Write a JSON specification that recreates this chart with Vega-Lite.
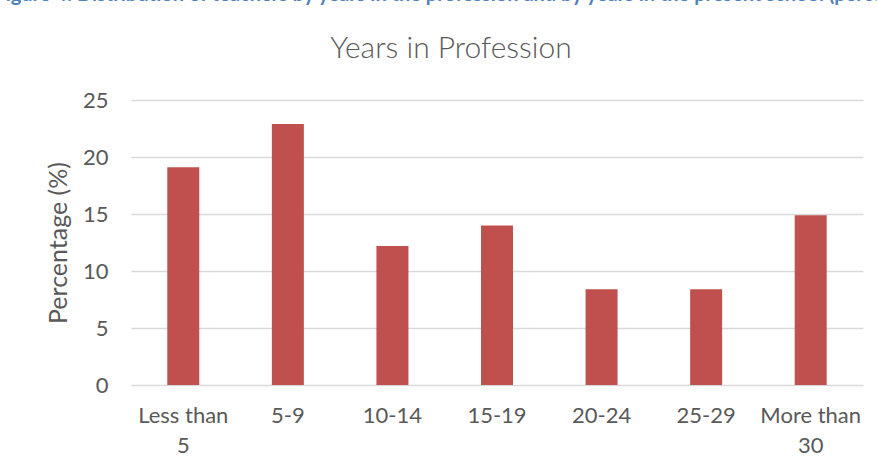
{
  "$schema": "https://vega.github.io/schema/vega-lite/v6.json",
  "width": 732,
  "height": 285,
  "autosize": {"type": "none"},
  "padding": {"left": 131, "top": 100, "right": 14, "bottom": 83},
  "background": "white",
  "title": {
    "text": "Figure 4: Distribution of teachers by years in the profession and by years in the present school (percent)",
    "subtitle": "Years in Profession",
    "anchor": "middle",
    "frame": "group",
    "dx": -46,
    "font": "Lato",
    "fontSize": 20,
    "fontWeight": "bold",
    "color": "#4f81bd",
    "subtitleFont": "Lato",
    "subtitleFontSize": 30,
    "subtitleFontWeight": 300,
    "subtitleColor": "#595959",
    "subtitlePadding": 29,
    "offset": 25
  },
  "data": {
    "values": [
      {"years": "Less than 5", "pct": 19.1},
      {"years": "5-9", "pct": 22.9},
      {"years": "10-14", "pct": 12.2},
      {"years": "15-19", "pct": 14.0},
      {"years": "20-24", "pct": 8.4},
      {"years": "25-29", "pct": 8.4},
      {"years": "More than 30", "pct": 14.9}
    ]
  },
  "mark": {"type": "bar", "color": "#c0504d"},
  "encoding": {
    "x": {
      "field": "years",
      "type": "nominal",
      "sort": null,
      "scale": {"paddingInner": 0.694, "paddingOuter": 0.347},
      "axis": {
        "title": null,
        "labelAngle": 0,
        "domain": false,
        "ticks": false,
        "grid": false,
        "labelFont": "Lato",
        "labelFontSize": 22,
        "labelColor": "#595959",
        "labelPadding": 20,
        "labelBaseline": "top",
        "labelLineHeight": 30,
        "labelExpr": "datum.value == 'Less than 5' ? ['Less than', '5'] : datum.value == 'More than 30' ? ['More than', '30'] : datum.value"
      }
    },
    "y": {
      "field": "pct",
      "type": "quantitative",
      "scale": {"domain": [0, 25], "nice": false},
      "axis": {
        "title": "Percentage (%)",
        "values": [0, 5, 10, 15, 20, 25],
        "domain": false,
        "ticks": false,
        "grid": true,
        "gridColor": "#d9d9d9",
        "gridWidth": 1.5,
        "labelFont": "Lato",
        "labelFontSize": 22,
        "labelColor": "#595959",
        "labelPadding": 23,
        "titleFont": "Lato",
        "titleFontSize": 25,
        "titleFontWeight": "normal",
        "titleColor": "#595959",
        "titlePadding": 11
      }
    }
  },
  "config": {"view": {"stroke": null}}
}
